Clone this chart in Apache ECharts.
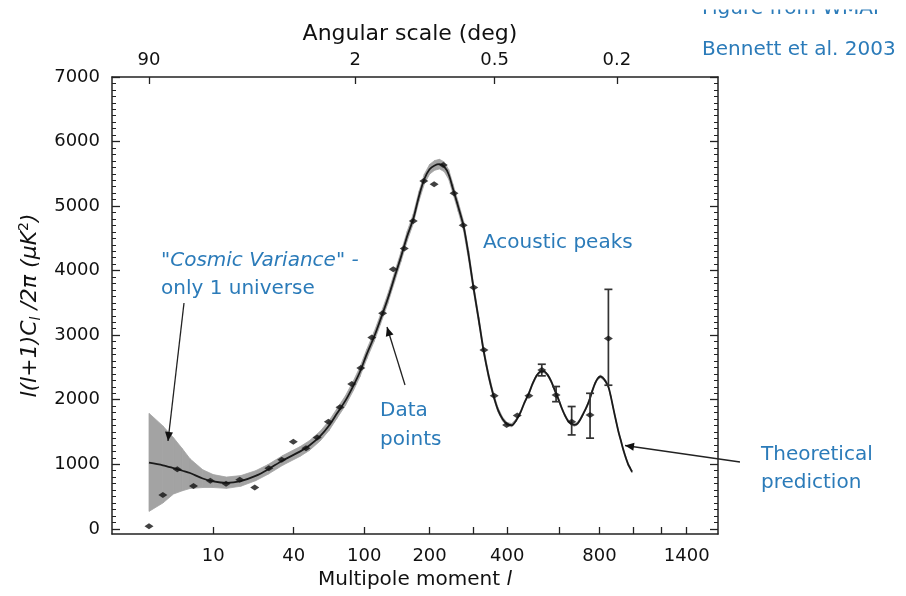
<!DOCTYPE html>
<html>
<head>
<meta charset="utf-8">
<script src="https://cdn.jsdelivr.net/npm/echarts@6/dist/echarts.min.js"></script>
<style>
  html, body { margin: 0; padding: 0; background: #fff; }
  #chart { width: 906px; height: 596px; }
</style>
</head>
<body>
<div id="chart"></div>
<script>
// Best-fit model spectrum, sampled in multipole l
const modelL = [2, 3, 4, 5, 6, 8, 10, 13, 17, 22,
  27, 34, 44, 50, 58, 65, 72, 80, 88, 95,
  103, 112, 120, 130, 140, 150, 160, 170, 180, 190,
  200, 210, 220, 230, 240, 250, 262, 275, 288, 300,
  315, 328, 342, 356, 370, 385, 400, 415, 430, 445,
  460, 475, 490, 505, 520, 535, 550, 565, 580, 595,
  610, 625, 640, 655, 670, 685, 700, 715, 730, 745,
  760, 775, 790, 805, 820, 835, 850, 865, 880, 895,
  910, 925, 940, 955, 970, 985, 995];
const modelPower = [1025, 985, 940, 900, 865, 780, 735, 712, 740, 820,
  920, 1060, 1200, 1290, 1440, 1600, 1790, 1990, 2220, 2430,
  2710, 2980, 3240, 3560, 3900, 4220, 4540, 4800, 5150, 5420,
  5570, 5630, 5650, 5610, 5490, 5260, 4990, 4690, 4230, 3750,
  3220, 2760, 2380, 2080, 1850, 1700, 1620, 1605, 1680, 1800,
  1960, 2090, 2250, 2370, 2435, 2440, 2385, 2285, 2150, 2020,
  1880, 1760, 1670, 1625, 1610, 1630, 1700, 1790, 1880, 1990,
  2130, 2250, 2330, 2360, 2335, 2280, 2200, 2040, 1850, 1670,
  1500, 1360, 1220, 1100, 1000, 930, 885];
// Cosmic-variance band: extent above and below the model at each modelL
const varianceAbove = [765, 610, 470, 340, 220, 135, 105, 90, 85, 80,
  75, 75, 75, 75, 75, 75, 75, 75, 75, 75,
  75, 75, 75, 75, 75, 75, 75, 75, 75, 75,
  75, 75, 75, 75, 75, 75, 75, 75, 75, 65,
  55, 50, 45, 40, 35, 30, 28, 25, 22, 20,
  20, 20, 20, 20, 20, 20, 20, 20, 20, 20,
  20, 20, 20, 20, 20, 20, 20, 20, 20, 20,
  20, 20, 20, 20, 20, 20, 20, 20, 20, 20,
  20, 20, 20, 20, 20, 20, 20];
const varianceBelow = [755, 585, 400, 310, 240, 140, 95, 85, 80, 75,
  75, 75, 75, 75, 75, 75, 75, 75, 75, 75,
  75, 75, 75, 75, 75, 75, 75, 75, 75, 75,
  75, 75, 75, 75, 75, 75, 75, 75, 75, 65,
  55, 50, 45, 40, 35, 30, 28, 25, 22, 20,
  20, 20, 20, 20, 20, 20, 20, 20, 20, 20,
  20, 20, 20, 20, 20, 20, 20, 20, 20, 20,
  20, 20, 20, 20, 20, 20, 20, 20, 20, 20,
  20, 20, 20, 20, 20, 20, 20];

// Binned measurements
const binL = [2, 3, 4.4, 6.5, 9.4, 12.9, 16.7, 21.7, 27.4, 33.5,
  39.8, 47.7, 55.6, 64.4, 74.7, 86.2, 96, 109, 123, 138,
  155, 170, 189, 209, 228, 252, 274, 301, 329, 359,
  398, 434, 476];
const binPower = [40, 525, 925, 665, 745, 700, 760, 640, 940, 1070,
  1350, 1250, 1415, 1660, 1885, 2245, 2490, 2965, 3340, 4020,
  4345, 4770, 5390, 5340, 5635, 5200, 4705, 3740, 2770, 2060,
  1610, 1755, 2060];
// High-l bins with visible error bars
const errL = [526, 586, 657, 749, 850];
const errPower = [2460, 2075, 1660, 1765, 2950];
const errLow = [2370, 1970, 1455, 1405, 2225];
const errHigh = [2550, 2205, 1895, 2100, 3710];

// Axis ticks
const lTicks = [10, 40, 100, 200, 300, 400, 600, 800, 1000, 1200, 1400];
const lLabels = [10, 40, 100, 200, 400, 800, 1400];
const angleTicks = [90, 2, 0.5, 0.2];
const powerLabels = [0, 1000, 2000, 3000, 4000, 5000, 6000, 7000];

// Horizontal axis is linear in l^(1/4)
const toT = l => Math.pow(l, 0.25);
const fromT = t => Math.pow(t, 4);
const T_MIN = 0.85, T_MAX = 6.404;
const P_MIN = -80, P_MAX = 7000;

const minorPower = [];
for (let v = 0; v <= 7000; v += 100) minorPower.push(v);

const modelData = modelL.map((l, i) => [toT(l), modelPower[i]]);
const bandData = modelL.map((l, i) => [toT(l), modelPower[i] - varianceBelow[i], modelPower[i] + varianceAbove[i]]);
const pointData = binL.map((l, i) => [toT(l), binPower[i]])
  .concat(errL.map((l, i) => [toT(l), errPower[i]]));
const errData = errL.map((l, i) => [toT(l), errLow[i], errHigh[i]]);

const AX = '#222';
const FONT = 'DejaVu Sans';
const BLUE = '#2b7bb9';
const GREY = '#a3a3a3';

const tickFont = { fontFamily: FONT, fontSize: 18, color: '#111' };

function arrowHead(tail, tip, len, half) {
  const dx = tip[0] - tail[0], dy = tip[1] - tail[1];
  const d = Math.sqrt(dx * dx + dy * dy);
  const ux = dx / d, uy = dy / d;
  const bx = tip[0] - ux * len, by = tip[1] - uy * len;
  return [[tip[0], tip[1]], [bx - uy * half, by + ux * half], [bx + uy * half, by - ux * half]];
}
function arrow(tail, tip) {
  return [
    { type: 'line', z: 50, shape: { x1: tail[0], y1: tail[1], x2: tip[0], y2: tip[1] },
      style: { stroke: '#222', lineWidth: 1.3 } },
    { type: 'polygon', z: 51, shape: { points: arrowHead(tail, tip, 9, 4) },
      style: { fill: '#111' } }
  ];
}
function note(text, x, y, extra) {
  return { type: 'text', z: 60, x: x, y: y,
    style: Object.assign({ text: text, fill: BLUE, font: '20px "DejaVu Sans"',
      verticalAlign: 'middle', align: 'left' }, extra || {}) };
}

const chart = echarts.init(document.getElementById('chart'), null, { renderer: 'canvas' });

const yBase = { type: 'value', min: P_MIN, max: P_MAX, splitLine: { show: false } };

chart.setOption({
  animation: false,
  backgroundColor: '#fff',
  grid: { left: 112, top: 77, width: 606, height: 457, containLabel: false },
  xAxis: [
    {
      type: 'value', position: 'bottom', min: T_MIN, max: T_MAX,
      splitLine: { show: false },
      axisLine: { show: true, onZero: false, lineStyle: { color: AX, width: 1.5 } },
      axisTick: { show: true, inside: true, length: 7, lineStyle: { color: AX, width: 1.3 },
        customValues: lTicks.map(toT) },
      axisLabel: Object.assign({ margin: 13, customValues: lLabels.map(toT),
        formatter: v => String(Math.round(fromT(v))) }, tickFont),
      name: '{n|Multipole moment }{i|l}', nameLocation: 'middle', nameGap: 36,
      nameTextStyle: { rich: {
        n: { fontFamily: FONT, fontSize: 20, color: '#111' },
        i: { fontFamily: FONT, fontSize: 20, color: '#111', fontStyle: 'italic' } } }
    },
    {
      type: 'value', position: 'top', min: T_MIN, max: T_MAX,
      splitLine: { show: false },
      axisLine: { show: true, onZero: false, lineStyle: { color: AX, width: 1.5 } },
      axisTick: { show: true, inside: true, length: 7, lineStyle: { color: AX, width: 1.3 },
        customValues: angleTicks.map(a => toT(180 / a)) },
      axisLabel: Object.assign({ margin: 8, customValues: angleTicks.map(a => toT(180 / a)),
        formatter: v => String(Math.round(1800 / fromT(v)) / 10) }, tickFont),
      name: 'Angular scale (deg)', nameLocation: 'middle', nameGap: 32,
      nameTextStyle: { fontFamily: FONT, fontSize: 22, color: '#111', padding: [0, 10, 0, 0] }
    }
  ],
  yAxis: [
    Object.assign({}, yBase, {
      position: 'left',
      axisLine: { show: true, onZero: false, lineStyle: { color: AX, width: 1.5 } },
      axisTick: { show: true, inside: true, length: 8, lineStyle: { color: AX, width: 1.3 },
        customValues: powerLabels },
      axisLabel: Object.assign({ margin: 12, customValues: powerLabels,
        formatter: v => String(v) }, tickFont),
      name: '{a|l(l+1)C}{s|l}{a| /2π (μK}{p|2}{a|)}',
      nameLocation: 'middle', nameGap: 60, nameRotate: 90,
      nameTextStyle: { rich: {
        a: { fontFamily: FONT, fontSize: 22, color: '#111', fontStyle: 'italic' },
        s: { fontFamily: FONT, fontSize: 14, color: '#111', fontStyle: 'italic', verticalAlign: 'bottom', padding: [12, 0, 0, 0] },
        p: { fontFamily: FONT, fontSize: 14, color: '#111', verticalAlign: 'top', padding: [0, 0, 9, 0] } } }
    }),
    Object.assign({}, yBase, {
      position: 'left',
      axisLine: { show: false },
      axisTick: { show: true, inside: true, length: 4, lineStyle: { color: AX, width: 1 },
        customValues: minorPower },
      axisLabel: { show: false }
    }),
    Object.assign({}, yBase, {
      position: 'right',
      axisLine: { show: true, onZero: false, lineStyle: { color: AX, width: 1.5 } },
      axisTick: { show: true, inside: true, length: 8, lineStyle: { color: AX, width: 1.3 },
        customValues: powerLabels },
      axisLabel: { show: false }
    }),
    Object.assign({}, yBase, {
      position: 'right',
      axisLine: { show: false },
      axisTick: { show: true, inside: true, length: 4, lineStyle: { color: AX, width: 1 },
        customValues: minorPower },
      axisLabel: { show: false }
    })
  ],
  series: [
    {
      // shaded cosmic-variance envelope, one quad per sample interval
      name: 'cosmic variance', type: 'custom', data: bandData, z: 1, silent: true,
      encode: { x: 0, y: [1, 2] },
      renderItem: function (params, api) {
        const i = params.dataIndex;
        if (i >= bandData.length - 1) return null;
        const next = bandData[i + 1];
        const x0 = api.value(0);
        const pts = [
          api.coord([x0, api.value(2)]),
          api.coord([next[0], next[2]]),
          api.coord([next[0], next[1]]),
          api.coord([x0, api.value(1)])
        ];
        return { type: 'polygon', shape: { points: pts },
          style: { fill: GREY, stroke: GREY, lineWidth: 0.8 } };
      }
    },
    {
      name: 'model', type: 'line', data: modelData, smooth: 0.3, symbol: 'none',
      lineStyle: { color: '#1a1a1a', width: 1.8 }, z: 3
    },
    {
      name: 'error bars', type: 'custom', data: errData, z: 4,
      encode: { x: 0, y: [1, 2] },
      renderItem: function (params, api) {
        const x = api.value(0);
        const lo = api.coord([x, api.value(1)]);
        const hi = api.coord([x, api.value(2)]);
        const w = 4;
        const st = { stroke: '#333', lineWidth: 1.7 };
        return { type: 'group', children: [
          { type: 'line', shape: { x1: lo[0], y1: lo[1], x2: hi[0], y2: hi[1] }, style: st },
          { type: 'line', shape: { x1: lo[0] - w, y1: lo[1], x2: lo[0] + w, y2: lo[1] }, style: st },
          { type: 'line', shape: { x1: hi[0] - w, y1: hi[1], x2: hi[0] + w, y2: hi[1] }, style: st }
        ] };
      }
    },
    {
      name: 'measurements', type: 'scatter', data: pointData, z: 5,
      symbol: 'diamond', symbolSize: [9, 6], itemStyle: { color: '#111' }
    }
  ],
  graphic: [
    note('Figure from WMAP', 702, 9),
    { type: 'rect', z: 70, shape: { x: 690, y: 0, width: 216, height: 9.5 }, style: { fill: '#fff' } },
    note('Bennett et al. 2003', 702, 50),
    note('Acoustic peaks', 483, 243),
    note('"Cosmic Variance" -', 161, 261, { font: 'italic 20px "DejaVu Sans"' }),
    note('only 1 universe', 161, 289),
    note('Data', 380, 411),
    note('points', 380, 440),
    note('Theoretical', 761, 455),
    note('prediction', 761, 483)
  ].concat(arrow([184, 303], [168, 441]))
   .concat(arrow([405, 385], [387, 327]))
   .concat(arrow([740, 462], [625, 445.5]))
});
</script>
</body>
</html>
